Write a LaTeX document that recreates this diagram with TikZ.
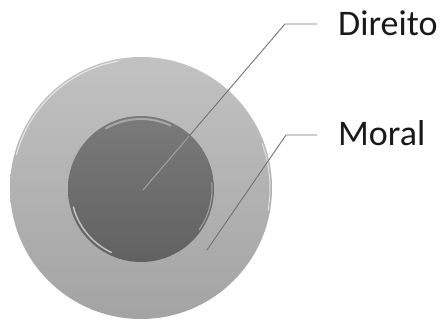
\documentclass[tikz,border=0pt]{standalone}
\usepackage{fontspec}
\setmainfont{Carlito}
\usetikzlibrary{positioning}

\begin{document}
\begin{tikzpicture}[x=1pt, y=-1pt,
  lead/.style={draw=black!55, line width=0.9pt},
  shine/.style={white, line cap=round},
  lbl/.style={anchor=base west, inner sep=0pt, font=\fontsize{36}{40}\selectfont, text=black!90}
]
\useasboundingbox (0,0) rectangle (442,320);
% disks
\shade[top color=black!24, bottom color=black!36] (141,188) circle (131);
\draw[shine, line width=1.2pt, opacity=0.6] (141,188) ++(-100:129) arc (-100:-165:129);
\draw[shine, line width=1pt, opacity=0.6] (141,188) ++(-20:129) arc (-20:10:129);
\shade[top color=black!52, bottom color=black!62] (141,189) circle (73);
\draw[shine, line width=2pt, opacity=0.35] (141,189) ++(-65:70) arc (-65:-120:70);
\draw[shine, line width=1.5pt, opacity=0.6] (141,189) ++(115:70) arc (115:165:70);
\draw[shine, line width=1pt, opacity=0.4] (141,189) ++(-5:71) arc (-5:35:71);
\coordinate (dirc) at (143,190);
\coordinate (morc) at (207,250);
% labels
\node[lbl] (dir) at (338,36) {Direito};
\node[lbl] (mor) at (338,146) {Moral};
\coordinate (dirk) at (285,24);
\coordinate (dire) at (317,24);
\coordinate (mork) at (286,135);
\coordinate (more) at (317,135);
% leaders
\draw[lead] (dirc) -- (dirk) -- (dire);
\begin{scope}
  \clip (141,189) circle (71);
  \draw[lead, draw=black!35] (dirc) -- (dirk);
\end{scope}
\draw[lead] (morc) -- (mork) -- (more);
\end{tikzpicture}
\end{document}
